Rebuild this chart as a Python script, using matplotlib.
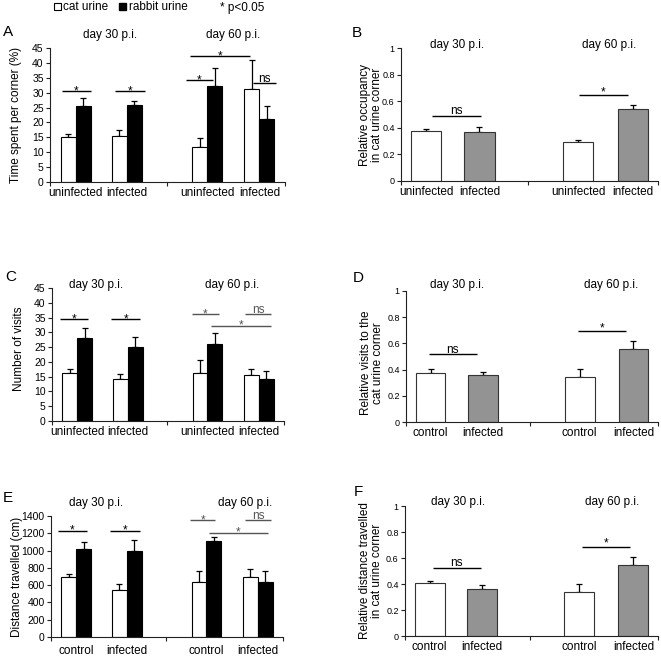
import numpy as np
import matplotlib
matplotlib.use('Agg')
import matplotlib.pyplot as plt
from matplotlib.patches import Patch

plt.rcParams['font.family'] = ['Liberation Sans', 'DejaVu Sans']

W, H = 661, 658

# ---- data ----
labels_AC = ['uninfected', 'infected', 'uninfected', 'infected']
labels_E = ['control', 'infected', 'control', 'infected']
labels_B = ['uninfected', 'infected', 'uninfected', 'infected']
labels_DF = ['control', 'infected', 'control', 'infected']

# A: time spent per corner (%)
cat_A = [15.0, 15.3, 11.6, 31.3]
cat_A_err = [1.0, 2.0, 3.2, 9.6]
rabbit_A = [25.6, 25.8, 32.1, 21.0]
rabbit_A_err = [2.7, 1.3, 6.1, 4.5]

# C: number of visits
cat_C = [16.4, 14.1, 16.1, 15.5]
cat_C_err = [1.1, 1.9, 4.5, 2.0]
rabbit_C = [28.2, 25.0, 26.2, 14.1]
rabbit_C_err = [3.4, 3.3, 3.6, 2.7]

# E: distance travelled (cm)
cat_E = [700, 540, 636, 694]
cat_E_err = [25, 77, 124, 97]
rabbit_E = [1014, 991, 1107, 636]
rabbit_E_err = [81, 135, 50, 128]

# B, D, F: relative values for cat urine corner
rel_B = [0.377, 0.372, 0.296, 0.540]
rel_B_err = [0.015, 0.033, 0.013, 0.030]
rel_D = [0.376, 0.358, 0.340, 0.556]
rel_D_err = [0.030, 0.020, 0.066, 0.066]
rel_F = [0.410, 0.362, 0.336, 0.546]
rel_F_err = [0.016, 0.028, 0.064, 0.064]

# significance marks: (x0, x1, y, text, colour)
sig_A = [(0.8, 2.7, 30.7, '*', 'k'), (4.3, 6.3, 30.7, '*', 'k'),
         (9.0, 10.8, 34.3, '*', 'k'), (9.3, 13.3, 42.4, '*', 'k'),
         (13.5, 15.0, 33.2, 'ns', 'k')]
sig_C = [(0.55, 2.45, 34.4, '*', 'k'), (3.95, 5.95, 34.4, '*', 'k'),
         (9.4, 11.2, 36.1, '*', '#555555'), (13.0, 14.7, 36.1, 'ns', '#555555'),
         (10.7, 14.7, 32.2, '*', '#555555')]
sig_E = [(0.45, 2.4, 1226, '*', 'k'), (3.95, 6.0, 1226, '*', 'k'),
         (9.35, 11.05, 1350, '*', '#555555'), (13.05, 14.8, 1350, 'ns', '#555555'),
         (10.6, 14.6, 1207, '*', '#555555')]
sig_B = [(1.0, 2.55, 0.49, 'ns', 'k'), (5.68, 7.23, 0.646, '*', 'k')]
sig_D = [(0.75, 2.3, 0.518, 'ns', 'k'), (5.6, 7.15, 0.693, '*', 'k')]
sig_F = [(0.9, 2.45, 0.526, 'ns', 'k'), (5.75, 7.3, 0.687, '*', 'k')]

pos_left = np.array([1.7, 5.1, 10.45, 13.9])
pos_right = np.array([0.8, 2.5, 5.65, 7.4])

fig = plt.figure(figsize=(W / 100, H / 100), dpi=100)


def px_axes(l, t, r, b):
    return fig.add_axes([l / W, 1 - b / H, (r - l) / W, (b - t) / H])


def ftext(x, y, s, **kw):
    fig.text(x / W, 1 - y / H, s, **kw)


def style(ax, xmax, sep, ylim, yticks, ytl, ylabel, lx, ly, labels, pos,
          pad=3.5, tsize=7.5):
    ax.set_xlim(0, xmax)
    ax.set_ylim(*ylim)
    for s in ['top', 'right']:
        ax.spines[s].set_visible(False)
    for s in ['left', 'bottom']:
        ax.spines[s].set_color('#222222')
        ax.spines[s].set_linewidth(0.8)
    ax.set_yticks(yticks)
    ax.set_yticklabels(ytl)
    ax.set_xticks([0, sep, xmax])
    ax.set_xticklabels([])
    ax.set_xticks(pos, labels, minor=True)
    ax.tick_params(axis='y', direction='out', length=3, width=0.8, pad=1.5,
                   labelsize=tsize, color='#222222')
    ax.tick_params(axis='x', which='major', direction='out', length=3, width=0.8,
                   color='#222222')
    ax.tick_params(axis='x', which='minor', length=0, pad=pad, labelsize=8.5)
    ax.set_ylabel(ylabel, fontsize=8.5, linespacing=1.0)
    ax.yaxis.set_label_coords(lx, ly)


def sig(ax, marks, off_star):
    for x0, x1, y, t, c in marks:
        ax.plot([x0, x1], [y, y], color=c, lw=1.0, clip_on=False, solid_capstyle='butt')
        off = off_star if t == '*' else 1.0
        ax.annotate(t, xy=((x0 + x1) / 2, y), xytext=(0, off), textcoords='offset points',
                    ha='center', va='baseline', fontsize=8.5, color=c,
                    annotation_clip=False)


def pair_panel(ax, cat, cat_err, rab, rab_err):
    xc = pos_left - 0.5
    xr = pos_left + 0.5
    ax.bar(xc, cat, width=1.0, color='white', edgecolor='black', linewidth=0.8, zorder=2)
    ax.bar(xr, rab, width=1.0, color='black', edgecolor='black', linewidth=0.8, zorder=2)
    ax.errorbar(xc, cat, yerr=[np.zeros(4), cat_err], fmt='none', ecolor='black',
                elinewidth=0.9, capsize=2.5, capthick=0.9, zorder=1)
    ax.errorbar(xr, rab, yerr=[np.zeros(4), rab_err], fmt='none', ecolor='black',
                elinewidth=0.9, capsize=2.5, capthick=0.9, zorder=1)


def rel_panel(ax, vals, err):
    cols = ['white', '#939393', 'white', '#939393']
    ax.bar(pos_right, vals, width=0.97, color=cols, edgecolor='#333333', linewidth=0.8,
           zorder=2)
    ax.errorbar(pos_right, vals, yerr=[np.zeros(4), err], fmt='none', ecolor='black',
                elinewidth=0.9, capsize=2.5, capthick=0.9, zorder=1)


L_MAX, L_SEP = 15.6, 7.75
R_MAX, R_SEP = 8.2, 4.05
t45 = list(range(0, 46, 5))
t1 = [0, 0.2, 0.4, 0.6, 0.8, 1.0]
t1l = ['0', '0.2', '0.4', '0.6', '0.8', '1']
t14 = list(range(0, 1401, 200))

# A
axA = px_axes(50, 48, 285, 182)
pair_panel(axA, cat_A, cat_A_err, rabbit_A, rabbit_A_err)
style(axA, L_MAX, L_SEP, (0, 45), t45, [str(v) for v in t45],
      'Time spent per corner (%)', -0.12, 0.5, labels_AC, pos_left)
sig(axA, sig_A, -2.5)

# B
axB = px_axes(401, 48, 658, 181)
rel_panel(axB, rel_B, rel_B_err)
style(axB, R_MAX, R_SEP, (0, 1), t1, t1l,
      'Relative occupancy\nin cat urine corner', -0.07, 0.5, labels_B, pos_right,
      tsize=6.5)
sig(axB, sig_B, 0.0)

# C
axC = px_axes(52, 288, 284, 421)
pair_panel(axC, cat_C, cat_C_err, rabbit_C, rabbit_C_err)
style(axC, L_MAX, L_SEP, (0, 45), t45, [str(v) for v in t45],
      'Number of visits', -0.116, 0.545, labels_AC, pos_left)
sig(axC, sig_C, -2.0)

# D
axD = px_axes(406, 291, 658, 422)
rel_panel(axD, rel_D, rel_D_err)
style(axD, R_MAX, R_SEP, (0, 1), t1, t1l,
      'Relative visits to the\ncat urine corner', -0.088, 0.45, labels_DF, pos_right,
      tsize=6.5)
sig(axD, sig_D, 0.0)

# E
axE = px_axes(51, 516, 283, 637)
pair_panel(axE, cat_E, cat_E_err, rabbit_E, rabbit_E_err)
style(axE, L_MAX, L_SEP, (0, 1400), t14, [str(v) for v in t14],
      'Distance travelled (cm)', -0.12, 0.5, labels_E, pos_left, pad=6)
sig(axE, sig_E, -2.0)

# F
axF = px_axes(405, 506, 658, 636)
rel_panel(axF, rel_F, rel_F_err)
style(axF, R_MAX, R_SEP, (0, 1), t1, t1l,
      'Relative distance travelled\nin cat urine corner', -0.085, 0.5, labels_DF,
      pos_right, tsize=6.5)
sig(axF, sig_F, 0.0)

# titles and panel letters
titles = [(110, 35, 233, 35), (457, 45, 609, 45), (96, 285, 232, 285),
          (457, 285, 611, 285), (96, 503, 245, 503), (458, 502, 612, 502)]
for x1, y1, x2, y2 in titles:
    ftext(x1, y1, 'day 30 p.i.', ha='center', va='center', fontsize=8.5)
    ftext(x2, y2, 'day 60 p.i.', ha='center', va='center', fontsize=8.5)

letters = [('A', 8, 32), ('B', 357, 33), ('C', 11, 277), ('D', 358, 278),
           ('E', 8, 498), ('F', 358, 492)]
for s, x, y in letters:
    ftext(x, y, s, ha='center', va='center', fontsize=11)

# legend
fig.legend(handles=[Patch(facecolor='white', edgecolor='black', linewidth=0.8),
                    Patch(facecolor='black', edgecolor='black')],
           labels=['cat urine', 'rabbit urine'], ncol=2, loc='center left',
           bbox_to_anchor=(54 / W, 1 - 7.5 / H), frameon=False, fontsize=8.5,
           handlelength=0.6, handleheight=0.6, handletextpad=0.2,
           columnspacing=0.9, borderpad=0, borderaxespad=0)
ftext(220, 7.5, '* p<0.05', ha='left', va='center', fontsize=8.5)

fig.savefig('out.png', dpi=100)
